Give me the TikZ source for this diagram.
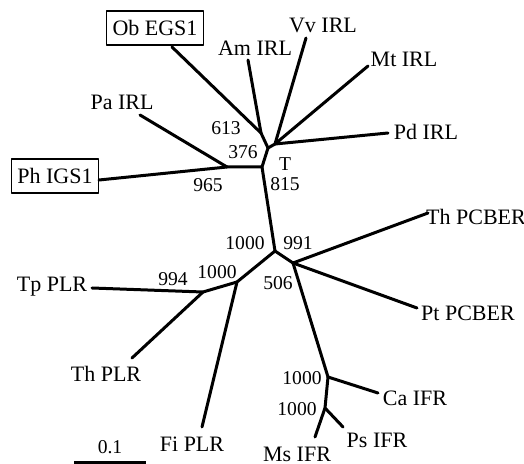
\documentclass[tikz,border=0pt]{standalone}
\usepackage{fontspec}
\setmainfont{Liberation Serif}
\usetikzlibrary{positioning}
\tikzset{
  tree/.style={x=0.5pt,y=-0.5pt,line width=1.5pt,line cap=round,line join=round,
    font=\fontsize{11}{13}\selectfont},
  leaf/.style={inner sep=1pt},
  boxed/.style={draw,line width=0.6pt,inner sep=3pt,minimum height=17pt},
  boot/.style={inner sep=0pt,font=\fontsize{9.8}{11}\selectfont},
}
\begin{document}
\begin{tikzpicture}[tree]
  \useasboundingbox (0,0) rectangle (524,464);
  % inner nodes
  \coordinate (nPh) at (227,167);
  \coordinate (nA) at (262,167);
  \coordinate (nB) at (268,148);
  \coordinate (nOb) at (261,133);
  \coordinate (nVv) at (275,144);
  \coordinate (nC) at (275,251);
  \coordinate (nPC) at (293,263);
  \coordinate (nCa) at (328,377);
  \coordinate (nMs) at (325,408);
  \coordinate (nFi) at (237,282);
  \coordinate (nTp) at (203,292);
  % tips
  \coordinate (tOb) at (172,47);
  \coordinate (tPh) at (99,180);
  \coordinate (tPa) at (140,115);
  \coordinate (tAm) at (248,60);
  \coordinate (tVv) at (306,38);
  \coordinate (tMt) at (368,66);
  \coordinate (tPd) at (388,133);
  \coordinate (tThPC) at (428,213);
  \coordinate (tPtPC) at (417,308);
  \coordinate (tCa) at (378,393);
  \coordinate (tPs) at (343,427);
  \coordinate (tMs) at (315,437);
  \coordinate (tFi) at (202,427);
  \coordinate (tTp) at (92,288);
  \coordinate (tThPL) at (132,358);
  % labels
  \node[boxed] (ob) at (155,28) {Ob EGS1};
  \node[boxed] (ph) at (55,176) {Ph IGS1};
  \node[leaf] (am) at (255,48) {Am IRL};
  \node[leaf] (vv) at (323,25) {Vv IRL};
  \node[leaf] (mt) at (404,59) {Mt IRL};
  \node[leaf] (pd) at (426,132) {Pd IRL};
  \node[leaf] (pa) at (122,102) {Pa IRL};
  \node[leaf] (thpc) at (476,217) {Th PCBER};
  \node[leaf] (ptpc) at (468,313) {Pt PCBER};
  \node[leaf] (ca) at (415,398) {Ca IFR};
  \node[leaf] (ps) at (377,440) {Ps IFR};
  \node[leaf] (ms) at (297,454) {Ms IFR};
  \node[leaf] (fi) at (192,444) {Fi PLR};
  \node[leaf] (thpl) at (106,374) {Th PLR};
  \node[leaf] (tp) at (52,287) {Tp PLR};
  % branches
  \draw (tPh) -- (nPh) -- (nA) -- (nB) -- (nOb) -- (tOb);
  \draw (tPa) -- (nPh);
  \draw (nOb) -- (tAm);
  \draw (nB) -- (nVv) -- (tVv);
  \draw (nVv) -- (tMt);
  \draw (nVv) -- (tPd);
  \draw (nA) -- (nC) -- (nPC) -- (tThPC);
  \draw (nPC) -- (tPtPC);
  \draw (nPC) -- (nCa) -- (tCa);
  \draw (nCa) -- (nMs) -- (tPs);
  \draw (nMs) -- (tMs);
  \draw (nC) -- (nFi) -- (tFi);
  \draw (nFi) -- (nTp) -- (tTp);
  \draw (nTp) -- (tThPL);
  % bootstrap values
  \node[boot] (b613) at (226,128) {613};
  \node[boot] (b376) at (243,152) {376};
  \node[boot] (b965) at (208,185) {965};
  \node[boot] (bT) at (285,164) {T};
  \node[boot] (b815) at (285,184) {815};
  \node[boot] (b1000a) at (245,243) {1000};
  \node[boot] (b991) at (298,243) {991};
  \node[boot] (b506) at (278,283) {506};
  \node[boot] (b1000b) at (217,272) {1000};
  \node[boot] (b994) at (173,279) {994};
  \node[boot] (b1000c) at (302,378) {1000};
  \node[boot] (b1000d) at (297,409) {1000};
  % scale bar
  \coordinate (sL) at (74,462);
  \coordinate (sR) at (146,462);
  \draw[line cap=butt] (sL) -- (sR);
  \node[boot] (scl) at (110,447) {0.1};
\end{tikzpicture}
\end{document}
